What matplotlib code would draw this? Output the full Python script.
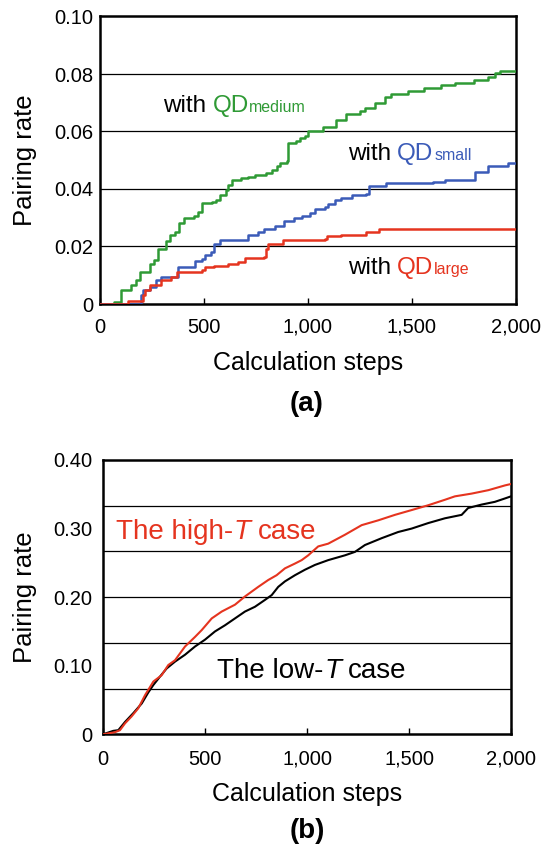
import numpy as np
import matplotlib
matplotlib.use("Agg")
import matplotlib.pyplot as plt

plt.rcParams['font.family'] = ['Liberation Sans', 'DejaVu Sans']

# ---- panel (a): step curves, (step, rate) where the rate changes ----
med_x = [0, 65, 100, 150, 175, 190, 240, 258, 278, 315, 335, 360, 380, 405, 450, 470,
         490, 540, 560, 575, 605, 615, 635, 680, 712, 745, 800, 825, 850, 865, 900, 905,
         940, 960, 985, 1000, 1070, 1135, 1185, 1250, 1275, 1320, 1370, 1400, 1480, 1560,
         1640, 1705, 1800, 1865, 1900, 1925, 2000]
med_y = [0, 0.0008, 0.005, 0.0066, 0.0083, 0.011, 0.014, 0.0153, 0.019, 0.022, 0.024,
         0.025, 0.028, 0.030, 0.0305, 0.032, 0.035, 0.0355, 0.036, 0.038, 0.0397, 0.0414,
         0.043, 0.0437, 0.044, 0.045, 0.0455, 0.0466, 0.048, 0.049, 0.0497, 0.056, 0.0566,
         0.0578, 0.0585, 0.060, 0.0617, 0.064, 0.066, 0.067, 0.068, 0.070, 0.072, 0.073,
         0.074, 0.075, 0.076, 0.077, 0.078, 0.079, 0.0805, 0.081, 0.081]

small_x = [0, 195, 205, 240, 270, 295, 375, 455, 488, 505, 535, 550, 575, 710, 760, 790,
           840, 885, 935, 970, 1010, 1035, 1080, 1095, 1130, 1160, 1210, 1280, 1295, 1375,
           1600, 1660, 1805, 1865, 1960, 2000]
small_y = [0, 0.003, 0.005, 0.006, 0.0083, 0.0095, 0.013, 0.015, 0.0155, 0.017, 0.018,
           0.021, 0.0221, 0.024, 0.025, 0.026, 0.027, 0.029, 0.030, 0.0305, 0.0317, 0.033,
           0.0336, 0.0348, 0.036, 0.037, 0.038, 0.0384, 0.041, 0.042, 0.0425, 0.043, 0.046,
           0.048, 0.049, 0.049]

large_x = [0, 135, 205, 215, 240, 295, 340, 368, 488, 505, 550, 615, 665, 695, 790, 800,
           810, 880, 1080, 1090, 1160, 1280, 1340, 2000]
large_y = [0, 0.001, 0.003, 0.005, 0.0066, 0.0083, 0.0095, 0.011, 0.0118, 0.013, 0.0132,
           0.014, 0.0146, 0.016, 0.0165, 0.019, 0.021, 0.0221, 0.0226, 0.0237, 0.024, 0.025,
           0.026, 0.026]

# ---- panel (b): high-T and low-T runs ----
high_x = [0, 58, 83, 108, 140, 173, 206, 247, 287, 320, 353, 402, 451, 484, 533, 582, 647,
          696, 761, 810, 851, 892, 941, 974, 1006, 1055, 1104, 1186, 1268, 1349, 1431, 1513,
          1594, 1676, 1725, 1807, 1889, 1971, 2000]
high_y = [0, 0.003, 0.006, 0.016, 0.026, 0.038, 0.057, 0.077, 0.086, 0.101, 0.108, 0.128,
          0.142, 0.152, 0.169, 0.179, 0.189, 0.201, 0.215, 0.225, 0.232, 0.242, 0.249, 0.254,
          0.261, 0.274, 0.278, 0.291, 0.305, 0.312, 0.320, 0.327, 0.334, 0.342, 0.347, 0.351,
          0.356, 0.363, 0.365]

low_x = [0, 50, 75, 108, 149, 190, 222, 247, 279, 312, 353, 402, 451, 500, 549, 598, 647,
         696, 745, 794, 827, 859, 892, 941, 990, 1039, 1104, 1186, 1235, 1284, 1366, 1447,
         1513, 1594, 1676, 1758, 1790, 1856, 1921, 1971, 2000]
low_y = [0, 0.005, 0.006, 0.018, 0.031, 0.045, 0.061, 0.072, 0.084, 0.096, 0.106, 0.116,
         0.128, 0.138, 0.150, 0.159, 0.169, 0.179, 0.186, 0.196, 0.203, 0.215, 0.223, 0.232,
         0.240, 0.247, 0.254, 0.261, 0.266, 0.276, 0.286, 0.295, 0.300, 0.308, 0.315, 0.320,
         0.330, 0.335, 0.339, 0.344, 0.347]

x_ticks = [0, 500, 1000, 1500, 2000]
x_tick_labels = ['0', '500', '1,000', '1,500', '2,000']
a_y_ticks = [0, 0.02, 0.04, 0.06, 0.08, 0.10]
a_y_labels = ['0', '0.02', '0.04', '0.06', '0.08', '0.10']
b_y_ticks = [0, 0.10, 0.20, 0.30, 0.40]
b_y_labels = ['0', '0.10', '0.20', '0.30', '0.40']

GREEN = '#2f9a35'
BLUE = '#3b5bb8'
RED = '#e5341f'


def style_axes(ax, yticks, ylabels, ymax, grid, ypad, xpad, ylabpad):
    ax.set_xlim(0, 2000)
    ax.set_ylim(0, ymax)
    ax.set_xticks(x_ticks)
    ax.set_xticklabels(x_tick_labels)
    ax.set_yticks(yticks)
    ax.set_yticklabels(ylabels)
    for g in grid:
        ax.axhline(g, color='black', lw=0.9, zorder=1)
    for s in ax.spines.values():
        s.set_linewidth(1.8)
    ax.tick_params(axis='x', direction='in', length=4, width=1, labelsize=14.5, pad=xpad)
    ax.tick_params(axis='y', length=0, labelsize=14.5, pad=ypad)
    ax.set_xlabel('Calculation steps', fontsize=18, labelpad=10)
    ax.set_ylabel('Pairing rate', fontsize=18.5, labelpad=ylabpad)


def chain(ax, x, y, parts, size_default):
    """write text pieces one after another on the same baseline"""
    prev = None
    for s, color, size, style, gap, dy in parts:
        size = size or size_default
        if prev is None:
            prev = ax.text(x, y, s, color=color, fontsize=size, style=style,
                           ha='left', va='baseline')
        else:
            prev = ax.annotate(s, xy=(1, 0), xycoords=prev, xytext=(gap, dy),
                               textcoords='offset points', color=color,
                               fontsize=size, style=style, ha='left', va='bottom')


fig = plt.figure(figsize=(5.41, 8.47), dpi=100)

# (a)
ax1 = fig.add_axes([100 / 541, 1 - 304 / 847, 416 / 541, 287.5 / 847])
ax1.plot(med_x, med_y, drawstyle='steps-post', color=GREEN, lw=1.8, zorder=3)
ax1.plot(small_x, small_y, drawstyle='steps-post', color=BLUE, lw=1.8, zorder=3)
ax1.plot(large_x, large_y, drawstyle='steps-post', color=RED, lw=1.8, zorder=4)
style_axes(ax1, a_y_ticks, a_y_labels, 0.10, [0.02, 0.04, 0.06, 0.08], 5, 10, 12)

for x, y, word, col in [(303, 0.0668, 'medium', GREEN),
                        (1192, 0.0501, 'small', BLUE),
                        (1192, 0.0104, 'large', RED)]:
    chain(ax1, x, y, [('with', 'black', None, 'normal', 0, 0),
                      ('QD', col, None, 'normal', 4.5, 0),
                      (word, col, 11.5, 'normal', 0.5, 1.2)], 17.5)

# (b)
ax2 = fig.add_axes([103 / 541, 1 - 734.3 / 847, 408 / 541, 274.3 / 847])
ax2.plot(low_x, low_y, color='black', lw=1.5, zorder=3)
ax2.plot(high_x, high_y, color=RED, lw=1.5, zorder=4)
style_axes(ax2, b_y_ticks, b_y_labels, 0.40, list(np.linspace(0, 0.4, 7)[1:-1]), 8, 11, 11)

chain(ax2, 64, 0.2848, [('The high-', RED, None, 'normal', 0, 0),
                        ('T', RED, None, 'italic', 0.5, 0),
                        ('case', RED, None, 'normal', 5, 0)], 20)
chain(ax2, 559, 0.0817, [('The low-', 'black', None, 'normal', 0, 0),
                         ('T', 'black', None, 'italic', 0.5, 0),
                         ('case', 'black', None, 'normal', 5, 0)], 20)

fig.text(307 / 541, 1 - 404 / 847, '(a)', fontsize=20, fontweight='bold',
         ha='center', va='center')
fig.text(307 / 541, 1 - 831 / 847, '(b)', fontsize=20, fontweight='bold',
         ha='center', va='center')

fig.savefig('out.png', dpi=100)
